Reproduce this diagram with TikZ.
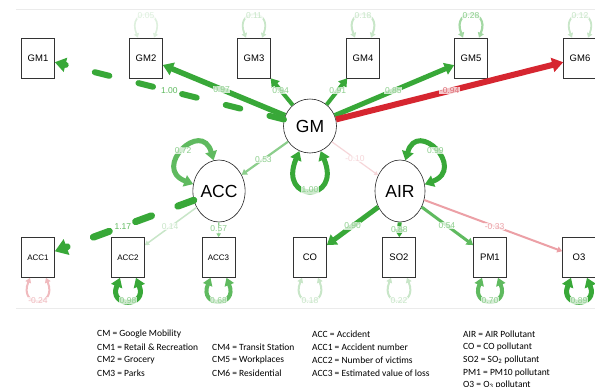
\documentclass[tikz,border=0pt]{standalone}
\usepackage{fontspec}
\setmainfont{Liberation Sans}
\newfontfamily\legendfont{Carlito}
\usetikzlibrary{arrows.meta,shapes.geometric}
\definecolor{gS}{RGB}{56,168,56}
\definecolor{gM}{RGB}{95,186,95}
\definecolor{gL}{RGB}{140,206,140}
\definecolor{gF}{RGB}{200,230,200}
\definecolor{gVF}{RGB}{222,240,222}
\definecolor{rS}{RGB}{214,38,48}
\definecolor{rL}{RGB}{222,110,118}
\definecolor{pM}{RGB}{236,160,166}
\definecolor{pL}{RGB}{240,186,190}
\definecolor{pF}{RGB}{246,214,217}
\begin{document}
\begin{tikzpicture}[x=1pt,y=1pt,
  box/.style={draw=black!80, line width=0.6pt, fill=white, minimum width=33pt, minimum height=40pt, inner sep=0pt, font=\fontsize{9.5}{10}\selectfont},
  sbox/.style={box, font=\fontsize{8}{9}\selectfont},
  lat/.style={draw=black!85, line width=0.6pt, fill=white, ellipse, inner sep=0pt, font=\fontsize{17.5}{18}\selectfont},
  conn/.style={line width=#1, -{Triangle[length=2pt 1.5,width=2pt 2]}},
  loopconn/.style={line width=#1, {Triangle[length=2pt 1.4,width=2pt 1.9]}-{Triangle[length=2pt 1.4,width=2pt 1.9]}},
  dashA/.style={dash pattern=on 15pt off 30pt, line cap=round},
  dashB/.style={dash pattern=on 17pt off 28pt, line cap=round},
  lbl/.style={text=#1, fill=white, fill opacity=0.75, text opacity=1, inner sep=0.6pt, font=\fontsize{8.5}{9}\selectfont},
  leg/.style={anchor=west, inner sep=0pt, text=black, font=\legendfont\fontsize{9.5}{10}\selectfont}
]
\useasboundingbox (0,0) rectangle (595,-386);
\clip (0,0) rectangle (595,-386);
\fill[white] (0,0) rectangle (595,-386);
% panel lines
\coordinate (T1) at (16,-9); \coordinate (T2) at (595,-9);
\coordinate (B1) at (16,-308); \coordinate (B2) at (595,-308);
\draw[black!8, line width=0.7pt] (T1) -- (T2);
\draw[black!8, line width=0.7pt] (B1) -- (B2);
% nodes
\node[box] (GM1) at (38,-58) {GM1};
\node[box] (GM2) at (146,-58) {GM2};
\node[box] (GM3) at (254,-58) {GM3};
\node[box] (GM4) at (363,-58) {GM4};
\node[box] (GM5) at (471,-58) {GM5};
\node[box] (GM6) at (580,-58) {GM6};
\node[lat, minimum width=53pt, minimum height=54pt] (GM) at (310,-126) {GM};
\node[lat, minimum width=50pt, minimum height=62pt] (ACC) at (219,-191) {ACC};
\node[lat, minimum width=50pt, minimum height=62pt] (AIR) at (400,-191) {AIR};
\node[sbox] (ACC1) at (38,-257.5) {ACC1};
\node[sbox] (ACC2) at (128,-257.5) {ACC2};
\node[sbox] (ACC3) at (218.5,-257.5) {ACC3};
\node[box] (CO) at (310,-257.5) {CO};
\node[box] (SO2) at (399,-257.5) {SO2};
\node[box] (PM1) at (490,-257.5) {PM1};
\node[box] (O3) at (579,-257.5) {O3};
% loadings GM
\draw[conn=6pt, gS, dashA] (GM) -- node[lbl=gM, pos=0.5]{1.00} (GM1);
\draw[conn=5.5pt, gS] (GM) -- node[lbl=gL, pos=0.52]{0.97} (GM2);
\draw[conn=4pt, gS] (GM) -- node[lbl=gL, pos=0.55]{0.94} (GM3);
\draw[conn=4pt, gS] (GM) -- node[lbl=gL, pos=0.54]{0.91} (GM4);
\draw[conn=5pt, gS] (GM) -- node[lbl=gL, pos=0.49]{0.85} (GM5);
\draw[conn=6pt, rS] (GM) -- node[lbl=rL, pos=0.5]{-0.94} (GM6);
% structural
\draw[conn=2.2pt, gL] (GM) -- node[lbl=gL, pos=0.53]{0.53} (ACC);
\draw[conn=1.2pt, pF] (GM) -- node[lbl=pF, pos=0.5]{-0.10} (AIR);
% loadings ACC
\draw[conn=7pt, gS, dashB] (ACC) -- node[lbl=gM, pos=0.51]{1.17} (ACC1);
\draw[conn=1.5pt, gF] (ACC) -- node[lbl=gF, pos=0.51]{0.14} (ACC2);
\draw[conn=1.2pt, gL] (ACC) -- node[lbl=gL, pos=0.45]{0.57} (ACC3);
% loadings AIR
\draw[conn=5pt, gS] (AIR) -- node[lbl=gL, pos=0.5]{0.90} (CO);
\draw[conn=4pt, gS] (AIR) -- node[lbl=gL, pos=0.5]{0.88} (SO2);
\draw[conn=3pt, gM] (AIR) -- node[lbl=gL, pos=0.49]{0.54} (PM1);
\draw[conn=2pt, pM] (AIR) -- node[lbl=pM, pos=0.51]{-0.33} (O3);
% latent variances
\draw[loopconn=5pt, gS] (GM.-113) .. controls +(-22,-52) and +(22,-52) .. node[lbl=gL]{1.00} (GM.-67);
\draw[loopconn=5pt, gM] (ACC.100) .. controls +(-12,42) and +(-42,16) .. node[lbl=gL]{0.72} (ACC.165);
\draw[loopconn=5pt, gS] (AIR.80) .. controls +(12,42) and +(42,16) .. node[lbl=gL]{0.99} (AIR.15);
% top residuals
\draw[loopconn=1.6pt, gVF] ([xshift=-8pt]GM2.north) .. controls +(-12,30) and +(12,30) .. node[lbl=gVF]{0.05} ([xshift=8pt]GM2.north);
\draw[loopconn=1.8pt, gF] ([xshift=-8pt]GM3.north) .. controls +(-12,30) and +(12,30) .. node[lbl=gF]{0.11} ([xshift=8pt]GM3.north);
\draw[loopconn=2pt, gF] ([xshift=-8pt]GM4.north) .. controls +(-12,30) and +(12,30) .. node[lbl=gF]{0.18} ([xshift=8pt]GM4.north);
\draw[loopconn=2.2pt, gL!80!white] ([xshift=-8pt]GM5.north) .. controls +(-12,30) and +(12,30) .. node[lbl=gL]{0.28} ([xshift=8pt]GM5.north);
\draw[loopconn=1.8pt, gF] ([xshift=-8pt]GM6.north) .. controls +(-12,30) and +(12,30) .. node[lbl=gF]{0.12} ([xshift=8pt]GM6.north);
% bottom residuals
\draw[loopconn=2pt, pL] ([xshift=-8pt]ACC1.south) .. controls +(-12,-30) and +(12,-30) .. node[lbl=pL]{-0.24} ([xshift=8pt]ACC1.south);
\draw[loopconn=5pt, gS] ([xshift=-8pt]ACC2.south) .. controls +(-12,-30) and +(12,-30) .. node[lbl=gL]{0.98} ([xshift=8pt]ACC2.south);
\draw[loopconn=4pt, gM] ([xshift=-8pt]ACC3.south) .. controls +(-12,-30) and +(12,-30) .. node[lbl=gL]{0.68} ([xshift=8pt]ACC3.south);
\draw[loopconn=2pt, gF] ([xshift=-8pt]CO.south) .. controls +(-12,-30) and +(12,-30) .. node[lbl=gF]{0.18} ([xshift=8pt]CO.south);
\draw[loopconn=2pt, gF] ([xshift=-8pt]SO2.south) .. controls +(-12,-30) and +(12,-30) .. node[lbl=gF]{0.22} ([xshift=8pt]SO2.south);
\draw[loopconn=4pt, gM] ([xshift=-8pt]PM1.south) .. controls +(-12,-30) and +(12,-30) .. node[lbl=gL]{0.70} ([xshift=8pt]PM1.south);
\draw[loopconn=5pt, gS] ([xshift=-8pt]O3.south) .. controls +(-12,-30) and +(12,-30) .. node[lbl=gL]{0.89} ([xshift=8pt]O3.south);
% legend
\node[leg] (La) at (97,-334) {CM = Google Mobility};
\node[leg] (Lb) at (97,-347) {CM1 = Retail \& Recreation};
\node[leg] (Lc) at (97,-360) {CM2 = Grocery};
\node[leg] (Ld) at (97,-373) {CM3 = Parks};
\node[leg] (Le) at (212,-347) {CM4 = Transit Station};
\node[leg] (Lf) at (212,-360) {CM5 = Workplaces};
\node[leg] (Lg) at (212,-373) {CM6 = Residential};
\node[leg] (Lh) at (312,-334) {ACC = Accident};
\node[leg] (Li) at (312,-347) {ACC1 = Accident number};
\node[leg] (Lj) at (312,-360) {ACC2 = Number of victims};
\node[leg] (Lk) at (312,-373) {ACC3 = Estimated value of loss};
\node[leg] (Ll) at (463,-334) {AIR = AIR Pollutant};
\node[leg] (Lm) at (463,-347) {CO = CO pollutant};
\node[leg] (Ln) at (463,-360) {SO2 = SO\textsubscript{2} pollutant};
\node[leg] (Lo) at (463,-373) {PM1 = PM10 pollutant};
\node[leg] (Lp) at (463,-385) {O3 = O\textsubscript{3} pollutant};
\end{tikzpicture}
\end{document}
